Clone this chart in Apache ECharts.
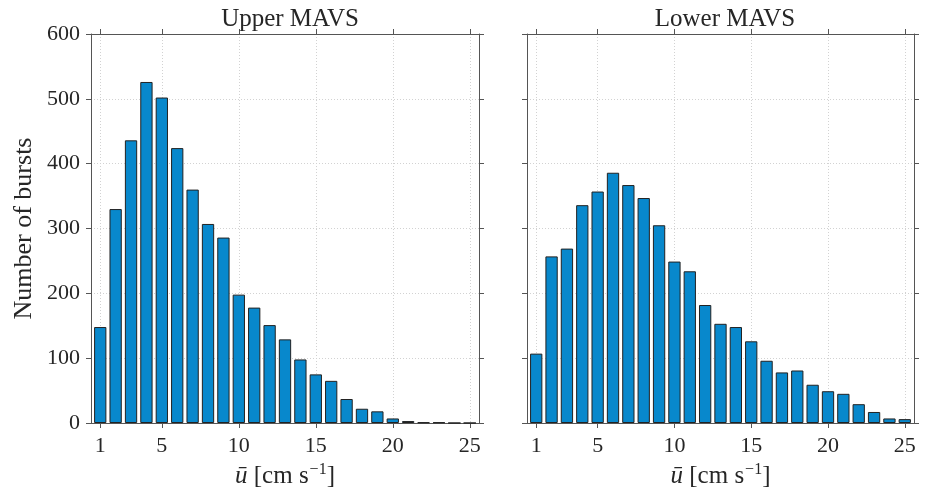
<!DOCTYPE html>
<html>
<head>
<meta charset="utf-8">
<script src="https://cdn.jsdelivr.net/npm/echarts@6/dist/echarts.min.js"></script>
<style>
html,body{margin:0;padding:0;background:#fff;}
#chart{width:930px;height:495px;}
</style>
</head>
<body>
<div id="chart"></div>
<script>
// ---- data ----
const speeds = [1,2,3,4,5,6,7,8,9,10,11,12,13,14,15,16,17,18,19,20,21,22,23,24,25];
const upperCounts = [148,330,436,526,502,424,360,307,286,198,178,151,129,98,75,65,37,22,18,7,3,1,1,0,0];
const lowerCounts = [107,257,269,336,357,386,367,347,305,249,234,182,153,148,126,96,78,81,59,49,45,29,17,7,6];
const xTickValues = [1,5,10,15,20,25];
const panelTitles = ['Upper MAVS','Lower MAVS'];
const xAxisTitle = '{i|ū} [cm s{sup|−1}]';
const yAxisTitle = 'Number of bursts';

// ---- styling ----
const FONT = 'Liberation Serif';
const axisColor = '#555555';
const textColor = '#262626';
const gridColor = '#d2d2d2';
const barColor = '#0888cc';
const barEdge = '#222222';

const chart = echarts.init(document.getElementById('chart'), null, {renderer:'canvas'});

const grids = [
  {left: 91, right: 451, top: 34, bottom: 72},
  {left: 527, right: 16, top: 34, bottom: 72}
];

function xAxes(gi) {
  const base = {
    type: 'value', gridIndex: gi, min: 0.4, max: 25.6,
    axisLine: {show: true, onZero: false, lineStyle: {color: axisColor, width: 1}},
    axisTick: {show: true, inside: false, length: 5, customValues: xTickValues, lineStyle: {color: axisColor}},
    splitLine: {show: false}
  };
  return [
    Object.assign({}, base, {
      position: 'bottom',
      name: xAxisTitle, nameLocation: 'middle', nameGap: 36,
      nameTextStyle: {
        fontFamily: FONT, fontSize: 25, color: textColor,
        rich: {
          i: {fontFamily: FONT, fontSize: 25, fontStyle: 'italic', color: textColor},
          sup: {fontFamily: FONT, fontSize: 16, color: textColor, padding: [0, 0, 14, 1]}
        }
      },
      axisLabel: {show: true, customValues: xTickValues, margin: 12, fontFamily: FONT, fontSize: 22, color: textColor},
      splitLine: {show: true, lineStyle: {color: gridColor, type: [1,2], width: 1}}
    }),
    Object.assign({}, base, {position: 'top', axisLabel: {show: false}})
  ];
}

function yAxes(gi, showLabels) {
  const base = {
    type: 'value', gridIndex: gi, min: 0, max: 600, interval: 100,
    axisLine: {show: true, lineStyle: {color: axisColor, width: 1}},
    axisTick: {show: true, inside: false, length: 5, lineStyle: {color: axisColor}},
    splitLine: {show: false}
  };
  const left = Object.assign({}, base, {
    position: 'left',
    axisLabel: {show: showLabels, margin: 11, fontFamily: FONT, fontSize: 22, color: textColor},
    splitLine: {show: true, lineStyle: {color: gridColor, type: [1,2], width: 1}}
  });
  if (showLabels) {
    left.name = yAxisTitle;
    left.nameLocation = 'middle';
    left.nameGap = 54;
    left.nameTextStyle = {fontFamily: FONT, fontSize: 26, color: textColor};
  }
  return [left, Object.assign({}, base, {position: 'right', axisLabel: {show: false}})];
}

function barSeries(gi, counts) {
  return {
    type: 'bar', xAxisIndex: gi * 2, yAxisIndex: gi * 2,
    data: speeds.map((s, i) => [s, counts[i]]),
    barWidth: 12.3,
    itemStyle: {color: barColor, borderColor: barEdge, borderWidth: 1},
    silent: true, animation: false
  };
}

chart.setOption({
  animation: false,
  backgroundColor: '#ffffff',
  title: panelTitles.map((t, i) => ({
    text: t, left: i === 0 ? 285 : 720, top: 2, textAlign: 'center',
    textStyle: {fontFamily: FONT, fontSize: 25, fontWeight: 'normal', color: textColor}
  })),
  grid: grids,
  xAxis: [...xAxes(0), ...xAxes(1)],
  yAxis: [...yAxes(0, true), ...yAxes(1, false)],
  series: [barSeries(0, upperCounts), barSeries(1, lowerCounts)]
});
</script>
</body>
</html>
